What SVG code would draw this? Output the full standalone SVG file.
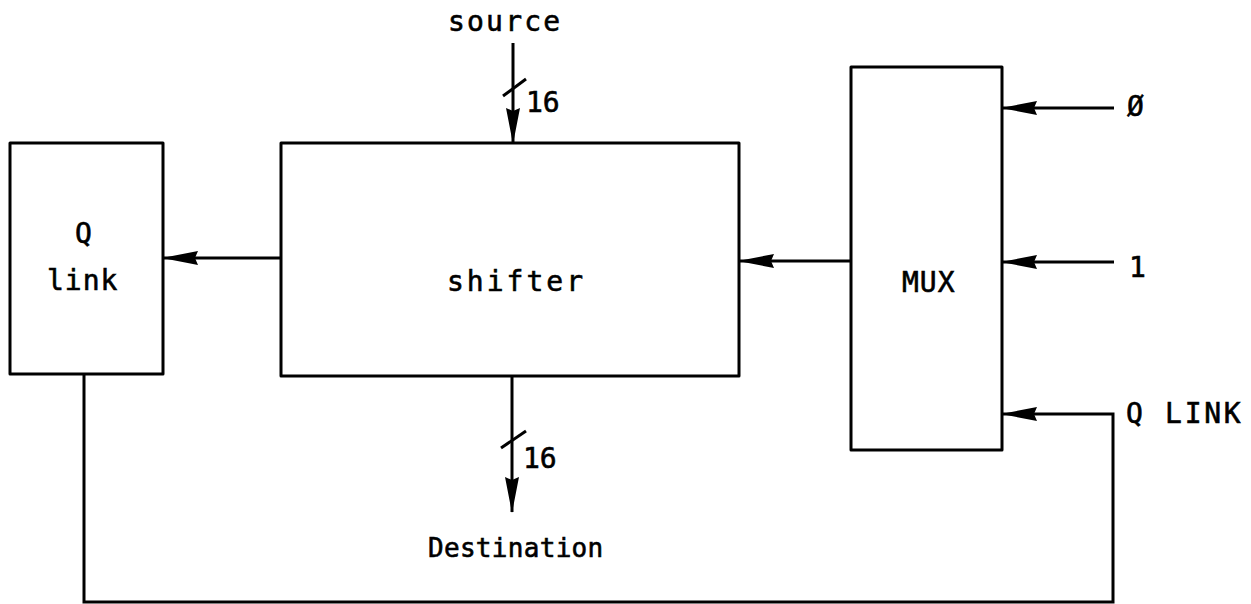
<svg xmlns="http://www.w3.org/2000/svg" width="1251" height="604" viewBox="0 0 1251 604">
<style>
.box{fill:none;stroke:#000;stroke-width:3;stroke-linejoin:round}
.ln{fill:none;stroke:#000;stroke-width:3}
.t{font-family:"DejaVu Sans Mono","Liberation Mono",monospace;font-size:28px;fill:#000;stroke:#000;stroke-width:0.6px;letter-spacing:3px}
</style>
<defs>
<marker id="ah" viewBox="0 0 36 14" refX="35" refY="7" markerWidth="36" markerHeight="14" markerUnits="userSpaceOnUse" orient="auto">
<path d="M0,0 L36,7 L0,14 L3,7 Z" fill="#000"/>
</marker>
</defs>
<rect width="1251" height="604" fill="#fff"/>
<g id="qlink">
<rect class="box" x="10" y="143" width="153" height="231"/>
<text class="t" x="75" y="243">Q</text>
<text class="t" x="47" y="290" style="letter-spacing:1px">link</text>
</g>
<g id="shifter">
<rect class="box" x="281" y="143" width="458" height="233"/>
<text class="t" x="447" y="291">shifter</text>
</g>
<g id="mux">
<rect class="box" x="851" y="67" width="151" height="383"/>
<text class="t" x="902" y="292" style="letter-spacing:1px">MUX</text>
</g>
<g id="labels">
<text class="t" x="448" y="31" style="letter-spacing:2.2px">source</text>
<text class="t" x="526" y="112" style="letter-spacing:0px">16</text>
<text class="t" x="523" y="468" style="letter-spacing:0px">16</text>
<text class="t" x="428" y="557" style="font-size:26px;letter-spacing:0.3px">Destination</text>
<text class="t" x="1127" y="116">Ø</text>
<text class="t" x="1129" y="277">1</text>
<text class="t" x="1126" y="423" style="letter-spacing:2.7px">Q LINK</text>
</g>
<g id="connectors">
<line class="ln" x1="513" y1="43" x2="513" y2="143" marker-end="url(#ah)"/>
<line class="ln" x1="503" y1="96" x2="526" y2="79"/>
<line class="ln" x1="512" y1="376" x2="512" y2="512" marker-end="url(#ah)"/>
<line class="ln" x1="501" y1="448" x2="526" y2="431"/>
<line class="ln" x1="281" y1="258" x2="163" y2="258" marker-end="url(#ah)"/>
<line class="ln" x1="851" y1="261" x2="739" y2="261" marker-end="url(#ah)"/>
<line class="ln" x1="1114" y1="108" x2="1002" y2="108" marker-end="url(#ah)"/>
<line class="ln" x1="1114" y1="262" x2="1002" y2="262" marker-end="url(#ah)"/>
<path class="ln" d="M84,374 L84,602 L1113,602 L1113,414 L1002,414" marker-end="url(#ah)"/>
</g>
</svg>
